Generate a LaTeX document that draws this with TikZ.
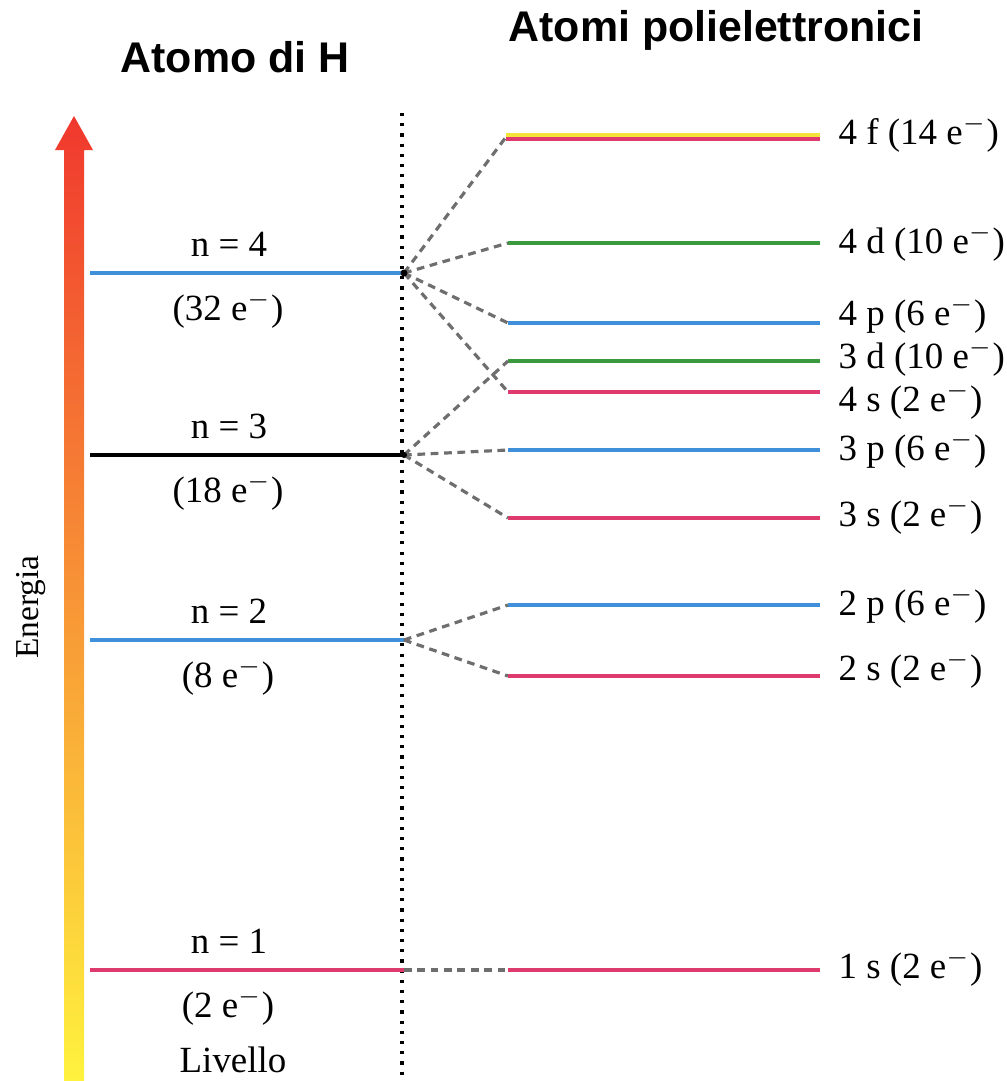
\documentclass[tikz,border=0pt]{standalone}
\usepackage{fontspec}
\setmainfont{Liberation Serif}
\setsansfont{Liberation Sans}
\usepackage{tikz}
\usetikzlibrary{positioning, calc}
\definecolor{levblue}{HTML}{3F8FDB}
\definecolor{levpink}{HTML}{DE3A6E}
\definecolor{levgreen}{HTML}{3C9A3E}
\definecolor{levyellow}{HTML}{F4E43A}
\definecolor{linkgrey}{HTML}{6E6E6E}
\definecolor{arrowred}{HTML}{F0382E}
\definecolor{arroworange}{HTML}{F27A2C}
\definecolor{arrowyellow}{HTML}{FFF23E}

\begin{document}
\begin{tikzpicture}[x=0.01cm, y=-0.01cm, font=\fontsize{10.5}{12}\selectfont,
  every node/.style={inner sep=0pt},
  level/.style={line width=1.2pt},
  link/.style={draw=linkgrey, line width=0.9pt, dash pattern=on 2.2pt off 1.6pt},
  title/.style={font=\sffamily\bfseries\fontsize{12.2}{15}\selectfont}]
  \useasboundingbox (0,0) rectangle (1007,1081);
  % titles
  \node[title] (titleH) at (235,57) {Atomo di H};
  \node[title] (titlePoly) at (716,30) {Atomi polielettronici};
  % energy arrow
  \shade[top color=arrowred, middle color=arroworange, bottom color=arrowyellow]
    (64,1081) -- (64,150) -- (55,150) -- (74,116) -- (93,150) -- (84,150) -- (84,1081) -- cycle;
  \node[rotate=90, font=\fontsize{9.5}{11}\selectfont] (energia) at (31,607) {Energia};
  % separator
  \coordinate (sepTop) at (402,113);
  \coordinate (sepBot) at (402,1081);
  \draw[line width=0.9pt, dotted] (sepTop) -- (sepBot);
  % levels of H
  \foreach \n/\yy/\col/\el in {4/273/levblue/32, 3/455/black/18, 2/640/levblue/8, 1/970/levpink/2}
  {
    \coordinate (H\n l) at (90,\yy);
    \coordinate (H\n) at (404,\yy);
    \draw[level, \col] (H\n l) -- (H\n);
    \node (n\n) at (229,\yy-29) {n = \n};
    \node (e\n) at (228,\yy+37) {(\el\ e$^-$)};
  }
  \node (livello) at (233,1060) {Livello};
  % levels of the polyelectronic atoms
  \coordinate (o4f) at (506,137);
  \coordinate (o4fr) at (820,137);
  \draw[level, levpink] ($(o4f)+(0,2)$) -- ($(o4fr)+(0,2)$);
  \draw[level, levyellow] ($(o4f)+(0,-2)$) -- ($(o4fr)+(0,-2)$);
  \node[anchor=west] (l4f) at (838,134) {4 f (14 e$^-$)};
  \foreach \nm/\yy/\col/\txt/\ly in {
      4d/243/levgreen/{4 d (10 e$^-$)}/243,
      4p/323/levblue/{4 p (6 e$^-$)}/315,
      3d/361/levgreen/{3 d (10 e$^-$)}/358,
      4s/392/levpink/{4 s (2 e$^-$)}/401,
      3p/450/levblue/{3 p (6 e$^-$)}/450,
      3s/518/levpink/{3 s (2 e$^-$)}/516,
      2p/605/levblue/{2 p (6 e$^-$)}/605,
      2s/676/levpink/{2 s (2 e$^-$)}/670,
      1s/970/levpink/{1 s (2 e$^-$)}/968}
  {
    \coordinate (o\nm) at (508,\yy);
    \coordinate (o\nm r) at (820,\yy);
    \draw[level, \col] (o\nm) -- (o\nm r);
    \node[anchor=west] (l\nm) at (838,\ly) {\txt};
  }
  % splitting of the levels
  \foreach \a/\b in {H4/o4f, H4/o4d, H4/o4p, H4/o4s, H3/o3d, H3/o3p, H3/o3s, H2/o2p, H2/o2s, H1/o1s}
    \draw[link] (\a) -- (\b);
  \fill (H4) circle (3.5);
  \fill (H3) circle (3);
\end{tikzpicture}
\end{document}
